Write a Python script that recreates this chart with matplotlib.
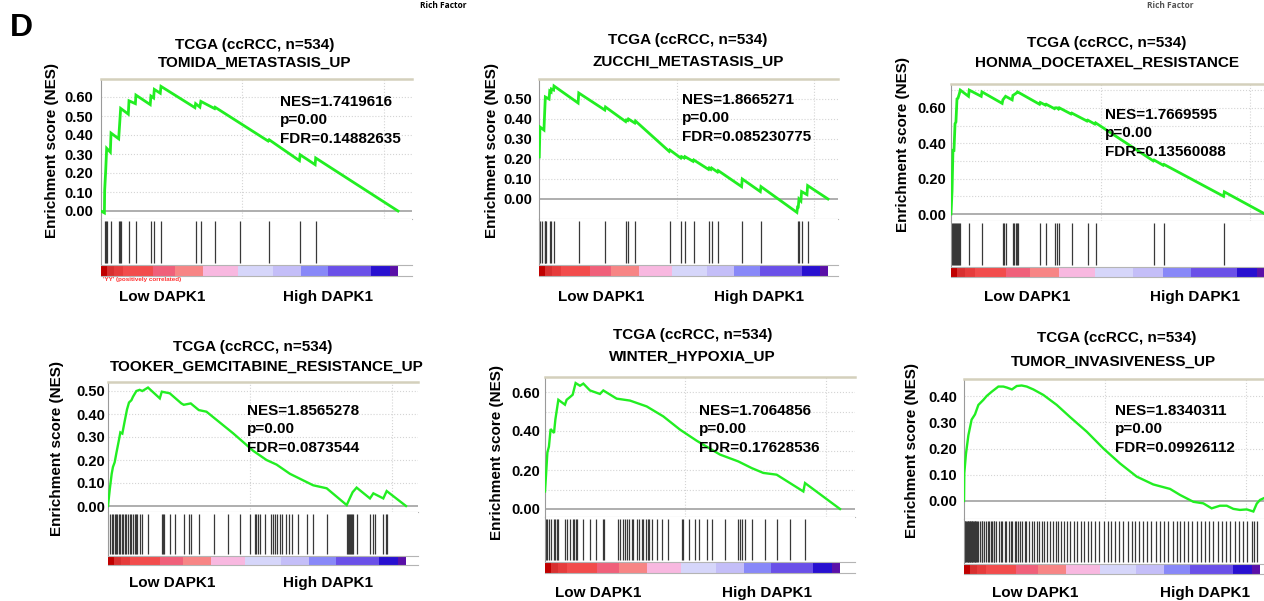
import matplotlib.pyplot as plt
import numpy as np

plt.rcParams["font.family"] = ["Liberation Sans", "DejaVu Sans"]
plt.rcParams["font.weight"] = "bold"

W, H = 1264, 601
N_K = 21.0  # length of the ranked gene list, thousands of genes

COHORT = "TCGA (ccRCC, n=534)"
GENE_SETS = ["TOMIDA_METASTASIS_UP", "ZUCCHI_METASTASIS_UP", "HONMA_DOCETAXEL_RESISTANCE",
             "TOOKER_GEMCITABINE_RESISTANCE_UP", "WINTER_HYPOXIA_UP", "TUMOR_INVASIVENESS_UP"]
NES = ["1.7419616", "1.8665271", "1.7669595", "1.8565278", "1.7064856", "1.8340311"]
P_VAL = ["0.00", "0.00", "0.00", "0.00", "0.00", "0.00"]
FDR = ["0.14882635", "0.085230775", "0.13560088", "0.0873544", "0.17628536", "0.09926112"]

# running enrichment score: rank (thousands) and ES
TOMIDA_RANK = [0, 0.24, 0.26, 0.33, 0.40, 0.66, 0.71, 1.25, 1.32, 1.39, 1.93, 1.98, 2.43, 2.47,
               3.48, 3.53, 3.72, 3.77, 4.19, 4.24, 6.64, 6.69, 6.99, 7.06, 8.03, 8.07, 11.82,
               11.89, 14.03, 14.08, 15.14, 15.18, 21.0]
TOMIDA_ES = [0.0, -0.01, 0.11, 0.21, 0.33, 0.31, 0.41, 0.38, 0.46, 0.54, 0.51, 0.58, 0.565, 0.61,
             0.56, 0.605, 0.595, 0.64, 0.62, 0.656, 0.544, 0.565, 0.547, 0.577, 0.539, 0.546, 0.368,
             0.375, 0.265, 0.296, 0.244, 0.279, 0.0]
TOMIDA_HITS = [0.26, 0.33, 0.40, 0.71, 1.27, 1.32, 1.39, 1.98, 2.47, 3.53, 3.77, 4.24, 6.69, 7.06,
               8.07, 9.86, 11.89, 14.08, 15.18]

ZUCCHI_RANK = [0.02, 0.07, 0.36, 0.41, 0.46, 0.73, 0.78, 0.88, 0.90, 1.06, 1.09, 2.84, 2.89, 4.78,
               4.83, 6.30, 6.35, 6.45, 6.50, 6.96, 7.01, 9.46, 9.51, 10.30, 10.35, 10.55, 10.60,
               11.20, 11.25, 12.32, 12.37, 12.49, 12.54, 12.97, 13.02, 14.72, 14.77, 16.08, 16.13,
               18.74, 18.79, 18.84, 18.89, 19.03, 19.08, 19.47, 19.52, 21.0]
ZUCCHI_ES = [0.21, 0.36, 0.345, 0.43, 0.51, 0.50, 0.54, 0.535, 0.55, 0.545, 0.565, 0.48, 0.53, 0.445,
             0.46, 0.387, 0.395, 0.392, 0.40, 0.38, 0.39, 0.238, 0.245, 0.205, 0.212, 0.205, 0.212,
             0.188, 0.195, 0.148, 0.155, 0.148, 0.155, 0.135, 0.142, 0.062, 0.10, 0.037, 0.062,
             -0.067, -0.04, -0.04, 0.0, -0.01, 0.037, 0.022, 0.067, 0.0]
ZUCCHI_HITS = [0.02, 0.07, 0.19, 0.41, 0.46, 0.51, 0.78, 0.90, 1.09, 2.89, 4.83, 6.35, 6.50, 7.01,
               9.51, 10.35, 10.60, 11.25, 12.37, 12.54, 13.02, 14.77, 16.13, 18.79, 18.89, 19.08,
               19.52]

HONMA_RANK = [0, 0.07, 0.13, 0.20, 0.27, 0.33, 0.40, 0.47, 0.56, 0.62, 1.17, 1.22, 2.02, 2.07, 3.42,
              3.47, 3.56, 3.65, 4.09, 4.14, 4.23, 4.32, 4.39, 4.45, 5.92, 5.97, 6.32, 6.37, 6.92,
              6.97, 7.08, 7.19, 7.24, 8.03, 8.08, 9.10, 9.15, 9.62, 9.67, 13.53, 13.58, 14.20,
              14.25, 18.23, 18.28, 21.0]
HONMA_ES = [0.0, 0.13, 0.36, 0.36, 0.51, 0.52, 0.65, 0.655, 0.68, 0.70, 0.665, 0.70, 0.665, 0.69,
            0.625, 0.645, 0.655, 0.665, 0.645, 0.67, 0.675, 0.68, 0.685, 0.69, 0.62, 0.63, 0.615,
            0.62, 0.595, 0.60, 0.60, 0.593, 0.60, 0.565, 0.57, 0.525, 0.53, 0.508, 0.515, 0.30,
            0.305, 0.275, 0.28, 0.10, 0.125, 0.0]
HONMA_HITS = [0.07, 0.13, 0.20, 0.27, 0.33, 0.40, 0.47, 0.56, 0.62, 1.22, 2.07, 3.47, 3.56, 3.65,
              4.14, 4.23, 4.32, 4.39, 4.45, 5.97, 6.37, 6.97, 7.08, 7.24, 8.08, 9.15, 9.67, 13.58,
              14.25, 18.28]

TOOKER_RANK = [0, 0.12, 0.26, 0.35, 0.47, 0.59, 0.78, 0.87, 1.01, 1.18, 1.34, 1.48, 1.65, 1.76,
               2.00, 2.23, 2.42, 2.82, 3.65, 3.79, 4.35, 5.17, 5.34, 5.83, 6.40, 6.94, 8.82, 10.23,
               11.17, 11.88, 12.82, 14.46, 15.41, 16.82, 17.05, 17.24, 17.52, 18.46, 18.70, 19.40,
               19.64, 21.0]
TOOKER_ES = [0.0, 0.07, 0.14, 0.17, 0.19, 0.23, 0.29, 0.32, 0.315, 0.37, 0.42, 0.45, 0.46, 0.475,
             0.50, 0.505, 0.50, 0.515, 0.468, 0.497, 0.49, 0.446, 0.44, 0.446, 0.417, 0.41, 0.316,
             0.24, 0.20, 0.18, 0.14, 0.09, 0.077, 0.004, 0.035, 0.06, 0.08, 0.033, 0.055, 0.033,
             0.065, 0.0]
TOOKER_HITS = [0.12, 0.26, 0.35, 0.47, 0.59, 0.66, 0.78, 0.87, 0.96, 1.06, 1.18, 1.29, 1.41, 1.53,
               1.65, 1.76, 1.88, 2.00, 2.07, 2.23, 2.42, 2.82, 3.79, 3.88, 3.95, 4.35, 4.75, 5.34,
               5.72, 5.83, 6.40, 7.46, 8.49, 9.29, 10.00, 10.33, 10.44, 10.58, 10.70, 11.05, 11.52,
               11.64, 11.78, 11.92, 12.11, 12.23, 12.54, 12.77, 12.98, 13.41, 13.99, 14.46, 15.41,
               16.82, 16.89, 16.96, 17.05, 17.12, 17.19, 17.29, 17.52, 18.46, 18.70, 18.82, 19.40,
               19.57, 19.64]

WINTER_RANK = [0, 0.07, 0.17, 0.28, 0.40, 0.64, 0.74, 0.95, 1.42, 1.54, 1.78, 1.97, 2.18, 2.49,
               2.73, 3.20, 3.91, 4.15, 5.10, 6.05, 7.24, 8.42, 9.61, 10.80, 12.46, 13.76, 14.71,
               15.54, 16.49, 17.44, 18.39, 18.51, 21.0]
WINTER_ES = [0.09, 0.17, 0.29, 0.32, 0.41, 0.39, 0.46, 0.56, 0.535, 0.56, 0.574, 0.586, 0.646,
             0.632, 0.643, 0.608, 0.59, 0.608, 0.566, 0.556, 0.526, 0.475, 0.407, 0.35, 0.279,
             0.244, 0.21, 0.185, 0.176, 0.133, 0.09, 0.133, 0.0]
WINTER_HITS = [0.07, 0.17, 0.28, 0.40, 0.64, 0.74, 0.83, 0.95, 1.42, 1.54, 1.78, 1.97, 2.06, 2.18,
               2.30, 2.73, 3.20, 3.61, 4.11, 4.18, 5.22, 5.34, 5.53, 5.70, 5.86, 6.00, 6.17, 6.29,
               6.57, 6.69, 6.88, 7.00, 7.19, 7.31, 7.43, 7.59, 7.95, 8.31, 8.78, 9.78, 9.85, 10.28,
               10.68, 10.99, 11.51, 11.87, 12.81, 13.76, 13.88, 14.05, 14.24, 14.71, 15.66, 16.49,
               17.44, 18.51]

TUMOR_RANK = [0, 0.02, 0.14, 0.31, 0.54, 0.78, 1.02, 1.37, 1.61, 1.96, 2.44, 2.79, 3.05, 3.40,
              3.74, 4.09, 4.45, 4.92, 5.63, 6.58, 7.52, 8.71, 9.89, 11.07, 12.25, 13.43, 14.62,
              15.33, 16.27, 16.98, 17.57, 18.16, 18.64, 19.11, 19.58, 20.06, 20.53, 20.77, 21.0,
              21.24]
TUMOR_ES = [0.0, 0.105, 0.18, 0.25, 0.31, 0.33, 0.366, 0.385, 0.40, 0.416, 0.436, 0.436, 0.432,
            0.425, 0.438, 0.44, 0.436, 0.425, 0.404, 0.366, 0.32, 0.264, 0.20, 0.143, 0.093, 0.063,
            0.046, 0.023, -0.003, -0.009, -0.028, -0.018, -0.018, -0.03, -0.034, -0.032, -0.04,
            -0.01, 0.004, 0.01]
TUMOR_HITS = [0.0, 0.05, 0.1, 0.15, 0.2, 0.25, 0.3, 0.35, 0.4, 0.45, 0.5, 0.55, 0.6, 0.65, 0.7,
              0.75, 0.8, 0.85, 0.9, 1.0, 1.1, 1.25, 1.3, 1.45, 1.55, 1.7, 1.8, 1.9, 2.0, 2.1, 2.15,
              2.3, 2.45, 2.6, 2.7, 2.9, 3.0, 3.2, 3.3, 3.4, 3.6, 3.7, 3.8, 4.0, 4.1, 4.3, 4.4, 4.6,
              4.8, 5.0, 5.2, 5.3, 5.5, 5.7, 5.9, 6.1, 6.3, 6.5, 6.7, 6.9, 7.1, 7.3, 7.5, 7.8, 8.0,
              8.3, 8.5, 8.8, 9.0, 9.3, 9.6, 9.9, 10.2, 10.4, 10.7, 11.0, 11.3, 11.6, 11.9, 12.1,
              12.4, 12.7, 13.0, 13.3, 13.6, 13.9, 14.2, 14.5, 14.8, 15.1, 15.3, 15.6, 15.9, 16.2,
              16.5, 16.8, 17.1, 17.4, 17.7, 18.0, 18.3, 18.6, 18.9, 19.2, 19.5, 19.8, 20.1, 20.4,
              20.6, 20.8]

CURVES = [(TOMIDA_RANK, TOMIDA_ES, TOMIDA_HITS), (ZUCCHI_RANK, ZUCCHI_ES, ZUCCHI_HITS),
          (HONMA_RANK, HONMA_ES, HONMA_HITS), (TOOKER_RANK, TOOKER_ES, TOOKER_HITS),
          (WINTER_RANK, WINTER_ES, WINTER_HITS), (TUMOR_RANK, TUMOR_ES, TUMOR_HITS)]

# ranked-list heat bar (fraction of list, red = low DAPK1 ... blue = high DAPK1)
CB_EDGES = [0, 0.02, 0.045, 0.075, 0.175, 0.25, 0.345, 0.46, 0.58, 0.675, 0.765, 0.91, 0.973, 1.0]
CB_COLORS = ["#c00000", "#d83030", "#e63c3c", "#f24c4c", "#f0607a", "#f78585", "#f8b8e0",
             "#d6d6fa", "#c4bef8", "#8888f8", "#6a50e8", "#2810d0", "#5a10a8"]

# panel geometry in pixels: frame left, list end, frame right, top, y of ES=0, px per 0.1,
# ES bottom, heat bar top/bottom, tick step, tick pad, curve width
LAYOUT = [
    dict(x0=101, x1=398, xr=412, top=79, zero=211, p01=19.0, esb=219, cbt=265, cbb=276, step=0.1, pad=8,
         lw=2.0, t=(255, 45, 255, 63), s=(280, 102), yl=(52, 150), lo=(162, 297), hi=(328, 297)),
    dict(x0=539, x1=828, xr=838, top=79, zero=199, p01=20.0, esb=219, cbt=265, cbb=276, step=0.1, pad=7,
         lw=2.0, t=(688, 40, 688, 62), s=(682, 100), yl=(492, 150), lo=(601, 297), hi=(759, 297)),
    dict(x0=951, x1=1265, xr=1280, top=84, zero=214, p01=17.7, esb=221, cbt=267, cbb=277, step=0.2, pad=5,
         lw=2.0, t=(1107, 43, 1107, 63), s=(1105, 115), yl=(903, 144), lo=(1027, 297), hi=(1195, 297)),
    dict(x0=108, x1=406, xr=418, top=382, zero=506, p01=23.0, esb=512, cbt=556, cbb=565, step=0.1, pad=3,
         lw=1.7, t=(253, 347, 267, 367), s=(247, 411), yl=(57, 448), lo=(172, 583), hi=(328, 583)),
    dict(x0=545, x1=840, xr=855, top=377, zero=509, p01=19.5, esb=517, cbt=562, cbb=573, step=0.2, pad=5,
         lw=1.7, t=(693, 335, 692, 357), s=(699, 411), yl=(497, 453), lo=(598, 593), hi=(767, 593)),
    dict(x0=964, x1=1260, xr=1280, top=379, zero=501, p01=26.25, esb=519, cbt=564, cbb=574, step=0.1, pad=7,
         lw=1.7, t=(1117, 338, 1113, 362), s=(1115, 411), yl=(912, 451), lo=(1035, 593), hi=(1205, 593)),
]

GREEN = "#22ee22"
FS = 11


def fx(x):
    return x / W


def fy(y):
    return 1 - y / H


def add_box(fig, left, top, right, bottom):
    return fig.add_axes([fx(left), fy(bottom), (right - left) / W, (bottom - top) / H])


fig = plt.figure(figsize=(W / 100, H / 100), dpi=100)

for i, (lay, (rank, es, hits)) in enumerate(zip(LAYOUT, CURVES)):
    xmax = N_K * (lay["xr"] - lay["x0"]) / (lay["x1"] - lay["x0"])
    ymin = -(lay["esb"] - lay["zero"]) / lay["p01"] * 0.1
    ymax = (lay["zero"] - lay["top"]) / lay["p01"] * 0.1

    ax = add_box(fig, lay["x0"], lay["top"], lay["xr"], lay["esb"])
    ax.set_xlim(0, xmax)
    ax.set_ylim(ymin, ymax)
    for g in np.arange(0.1, ymax - 0.01, 0.1):
        ax.axhline(g, color="#d4d4d4", lw=0.8, ls=":", zorder=0)
    for g in (10, 20):
        ax.axvline(g, color="#d4d4d4", lw=0.8, ls=":", zorder=0)
    ax.axhline(0, color="#a8a8a8", lw=1.3, zorder=1)
    ax.plot(rank, es, color=GREEN, lw=lay["lw"], zorder=3, solid_joinstyle="miter")
    ticks = np.arange(0, ymax - 0.01, lay["step"])
    ax.set_yticks(ticks)
    ax.set_yticklabels([f"{t:.2f}" for t in ticks], fontsize=10.5, fontweight="bold")
    ax.tick_params(axis="y", length=0, pad=lay["pad"] * 0.72)
    ax.set_xticks([])
    ax.spines["right"].set_visible(False)
    ax.spines["top"].set_color("#d4d0bc")
    ax.spines["top"].set_linewidth(1.8)
    ax.spines["left"].set_color("#9a9a9a")
    ax.spines["bottom"].set_color("#b4b4b4")

    axh = add_box(fig, lay["x0"], lay["esb"], lay["xr"], lay["cbt"])
    axh.set_xlim(0, xmax)
    axh.set_ylim(0, 1)
    axh.vlines(hits, 0.04, 0.96, color="#383838", lw=0.9)
    axh.set_xticks([])
    axh.set_yticks([])
    for side in ("top", "right", "bottom"):
        axh.spines[side].set_visible(False)
    axh.spines["left"].set_color("#9a9a9a")

    axc = add_box(fig, lay["x0"], lay["cbt"], lay["xr"], lay["cbb"])
    axc.set_xlim(0, xmax)
    axc.set_ylim(0, 1)
    edges = np.array(CB_EDGES) * N_K
    axc.barh(0.5, np.diff(edges), left=edges[:-1], height=1, color=CB_COLORS, lw=0)
    axc.set_xticks([])
    axc.set_yticks([])
    for side in ("left", "right"):
        axc.spines[side].set_visible(False)
    for side in ("top", "bottom"):
        axc.spines[side].set_color("#b4b4b4")

    tx1, ty1, tx2, ty2 = lay["t"]
    fig.text(fx(tx1), fy(ty1), COHORT, ha="center", va="center", fontsize=FS, fontweight="bold")
    fig.text(fx(tx2), fy(ty2), GENE_SETS[i], ha="center", va="center", fontsize=FS, fontweight="bold")
    sx, sy = lay["s"]
    for k, line in enumerate([f"NES={NES[i]}", f"p={P_VAL[i]}", f"FDR={FDR[i]}"]):
        fig.text(fx(sx), fy(sy + 18.3 * k), line, ha="left", va="center", fontsize=FS, fontweight="bold")
    fig.text(fx(lay["yl"][0]), fy(lay["yl"][1]), "Enrichment score (NES)", rotation=90,
             ha="center", va="center", fontsize=FS, fontweight="bold")
    fig.text(fx(lay["lo"][0]), fy(lay["lo"][1]), "Low DAPK1", ha="center", va="center",
             fontsize=FS, fontweight="bold")
    fig.text(fx(lay["hi"][0]), fy(lay["hi"][1]), "High DAPK1", ha="center", va="center",
             fontsize=FS, fontweight="bold")

fig.text(fx(103), fy(280), "'YY' (positively correlated)", color="#ff3030", fontsize=4.5,
         ha="left", va="center")
fig.text(fx(10), fy(28), "D", fontsize=23, fontweight="bold", ha="left", va="center")
fig.text(fx(443), fy(0.5), "Rich Factor", fontsize=6, fontweight="bold", ha="center", va="top",
         family=["Open Sans", "DejaVu Sans"])
fig.text(fx(1170), fy(0.5), "Rich Factor", fontsize=6, fontweight="bold", ha="center", va="top",
         color="#555555", family=["Open Sans", "DejaVu Sans"])

fig.savefig("out.png", dpi=100)
